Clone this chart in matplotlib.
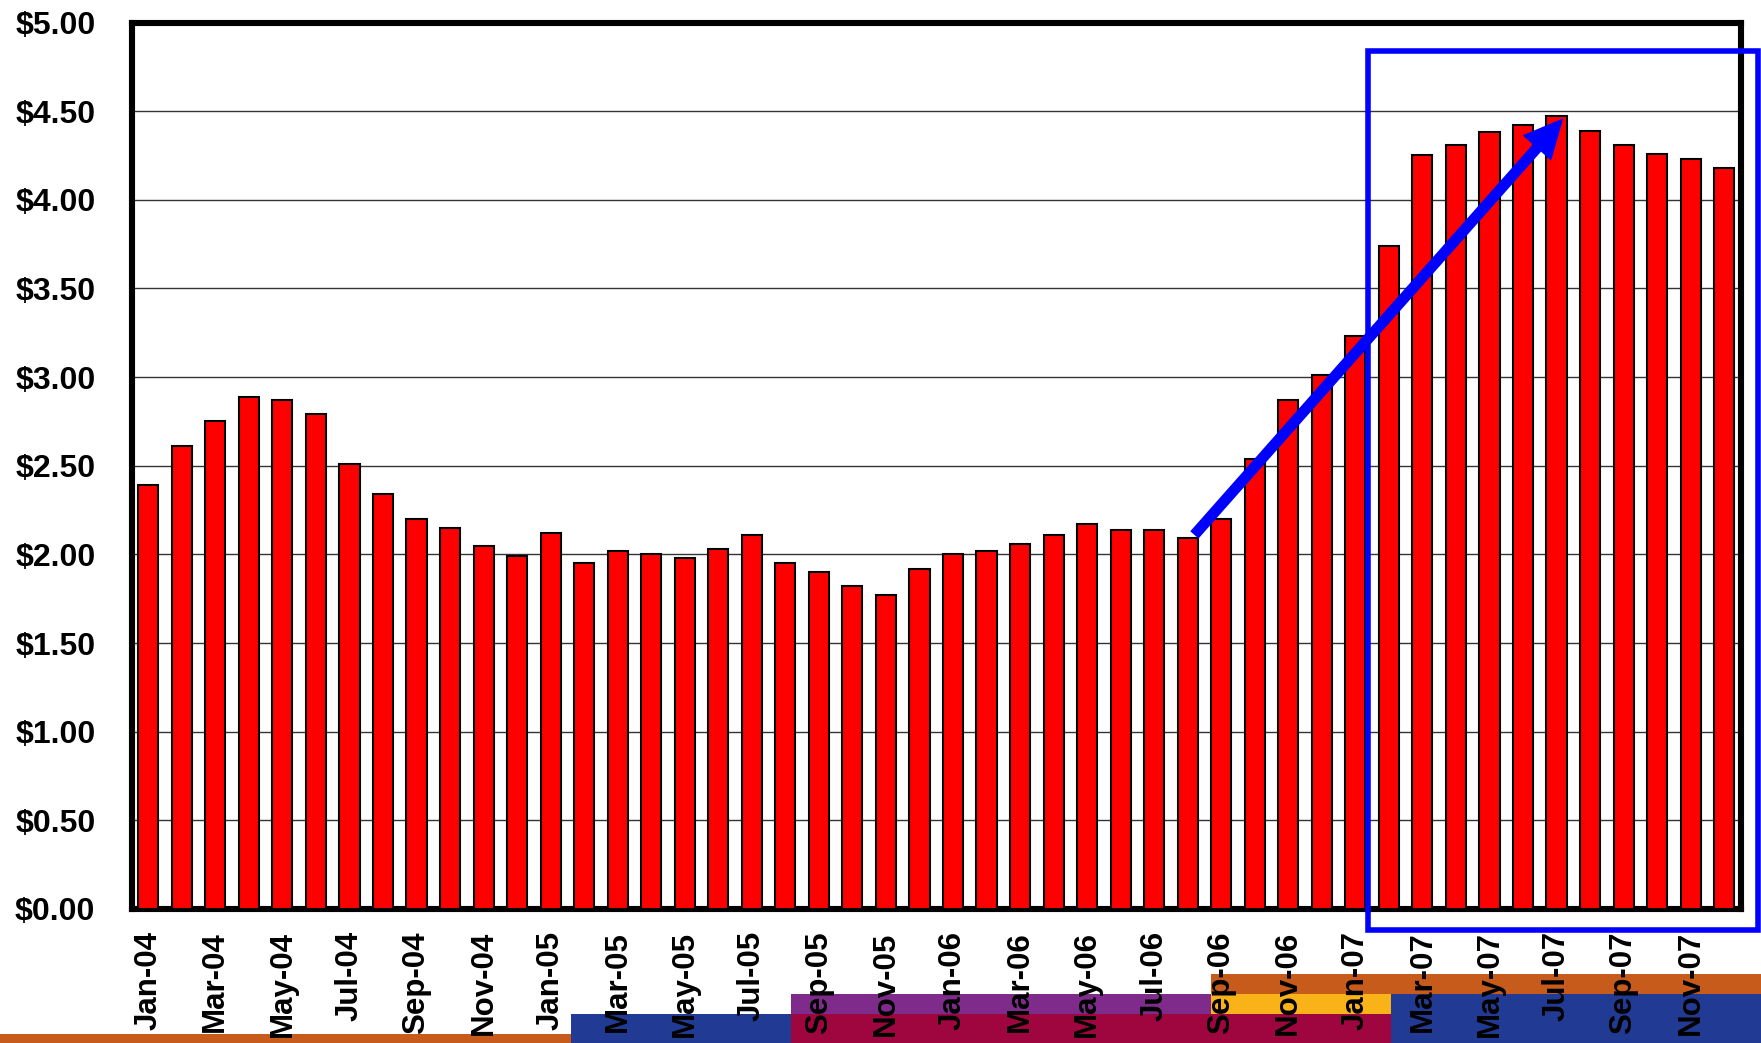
import numpy as np
import matplotlib
matplotlib.use('Agg')
import matplotlib.pyplot as plt
from matplotlib.patches import Rectangle

plt.rcParams['font.family'] = ['Liberation Sans', 'DejaVu Sans']
plt.rcParams['font.weight'] = 'bold'

# monthly price, Jan-04 .. Dec-07
months = ['Jan-04', 'Feb-04', 'Mar-04', 'Apr-04', 'May-04', 'Jun-04',
          'Jul-04', 'Aug-04', 'Sep-04', 'Oct-04', 'Nov-04', 'Dec-04',
          'Jan-05', 'Feb-05', 'Mar-05', 'Apr-05', 'May-05', 'Jun-05',
          'Jul-05', 'Aug-05', 'Sep-05', 'Oct-05', 'Nov-05', 'Dec-05',
          'Jan-06', 'Feb-06', 'Mar-06', 'Apr-06', 'May-06', 'Jun-06',
          'Jul-06', 'Aug-06', 'Sep-06', 'Oct-06', 'Nov-06', 'Dec-06',
          'Jan-07', 'Feb-07', 'Mar-07', 'Apr-07', 'May-07', 'Jun-07',
          'Jul-07', 'Aug-07', 'Sep-07', 'Oct-07', 'Nov-07', 'Dec-07']
prices = [2.39, 2.61, 2.75, 2.89, 2.87, 2.79, 2.51, 2.34, 2.20, 2.15, 2.05, 1.99,
          2.12, 1.95, 2.02, 2.00, 1.98, 2.03, 2.11, 1.95, 1.90, 1.82, 1.77, 1.92,
          2.00, 2.02, 2.06, 2.11, 2.17, 2.14, 2.14, 2.09, 2.20, 2.54, 2.87, 3.01,
          3.23, 3.74, 4.25, 4.31, 4.38, 4.42, 4.47, 4.39, 4.31, 4.26, 4.23, 4.18]
y_ticks = [0, 0.5, 1.0, 1.5, 2.0, 2.5, 3.0, 3.5, 4.0, 4.5, 5.0]

x = np.arange(len(months))

fig = plt.figure(figsize=(17.61, 10.43), dpi=100)

# slide decoration along the bottom edge (behind everything)
H = 1043.0
W = 1761.0
bands = [(0, 571, 1034, 1043, '#C75B1C'),
         (571, 791, 1014, 1043, '#213B95'),
         (791, 1211, 994, 1014, '#7E2B8C'),
         (791, 1391, 1014, 1043, '#9F0640'),
         (1211, 1761, 974, 994, '#C75B1C'),
         (1211, 1391, 994, 1014, '#FAB219'),
         (1391, 1761, 994, 1043, '#213B95')]
for x0, x1, y0, y1, c in bands:
    fig.patches.append(Rectangle((x0 / W, 1 - y1 / H), (x1 - x0) / W, (y1 - y0) / H,
                                 transform=fig.transFigure, facecolor=c,
                                 edgecolor='none', zorder=-5))

ax = fig.add_axes([0.0747, 0.1285, 0.9139, 0.8499])
ax.patch.set_alpha(0)
ax.bar(x, prices, width=0.6, color='#FF0000', edgecolor='black', linewidth=1.5, zorder=3)

ax.set_xlim(-0.5, len(months) - 0.5)
ax.set_ylim(0, 5)
ax.set_yticks(y_ticks)
ax.set_yticklabels(['$' + format(v, '.2f') for v in y_ticks], fontsize=23)
ax.set_xticks(x[::2])
ax.set_xticklabels(months[::2], rotation=90, fontsize=22.5)
ax.tick_params(axis='both', length=0)
ax.tick_params(axis='x', pad=16)
ax.tick_params(axis='y', pad=26)

ax.set_axisbelow(True)
ax.grid(axis='y', color='#333333', linewidth=1)
for s in ax.spines.values():
    s.set_linewidth(4.4)
    s.set_color('black')

# highlight box and trend arrow
ax.add_patch(Rectangle((36.38, -0.118), 48.0 - 36.38, 4.842 + 0.118, fill=False,
                       edgecolor='#0000FF', linewidth=4, clip_on=False, zorder=6))
ax.annotate('', xy=(42.2, 4.46), xytext=(31.2, 2.11),
            arrowprops=dict(arrowstyle='simple,head_length=1.3,head_width=1.25,tail_width=0.36',
                            mutation_scale=22, color='#0000FF', linewidth=0,
                            shrinkA=0, shrinkB=0),
            annotation_clip=False, zorder=7)

fig.savefig('out.png', dpi=100, facecolor='white')
